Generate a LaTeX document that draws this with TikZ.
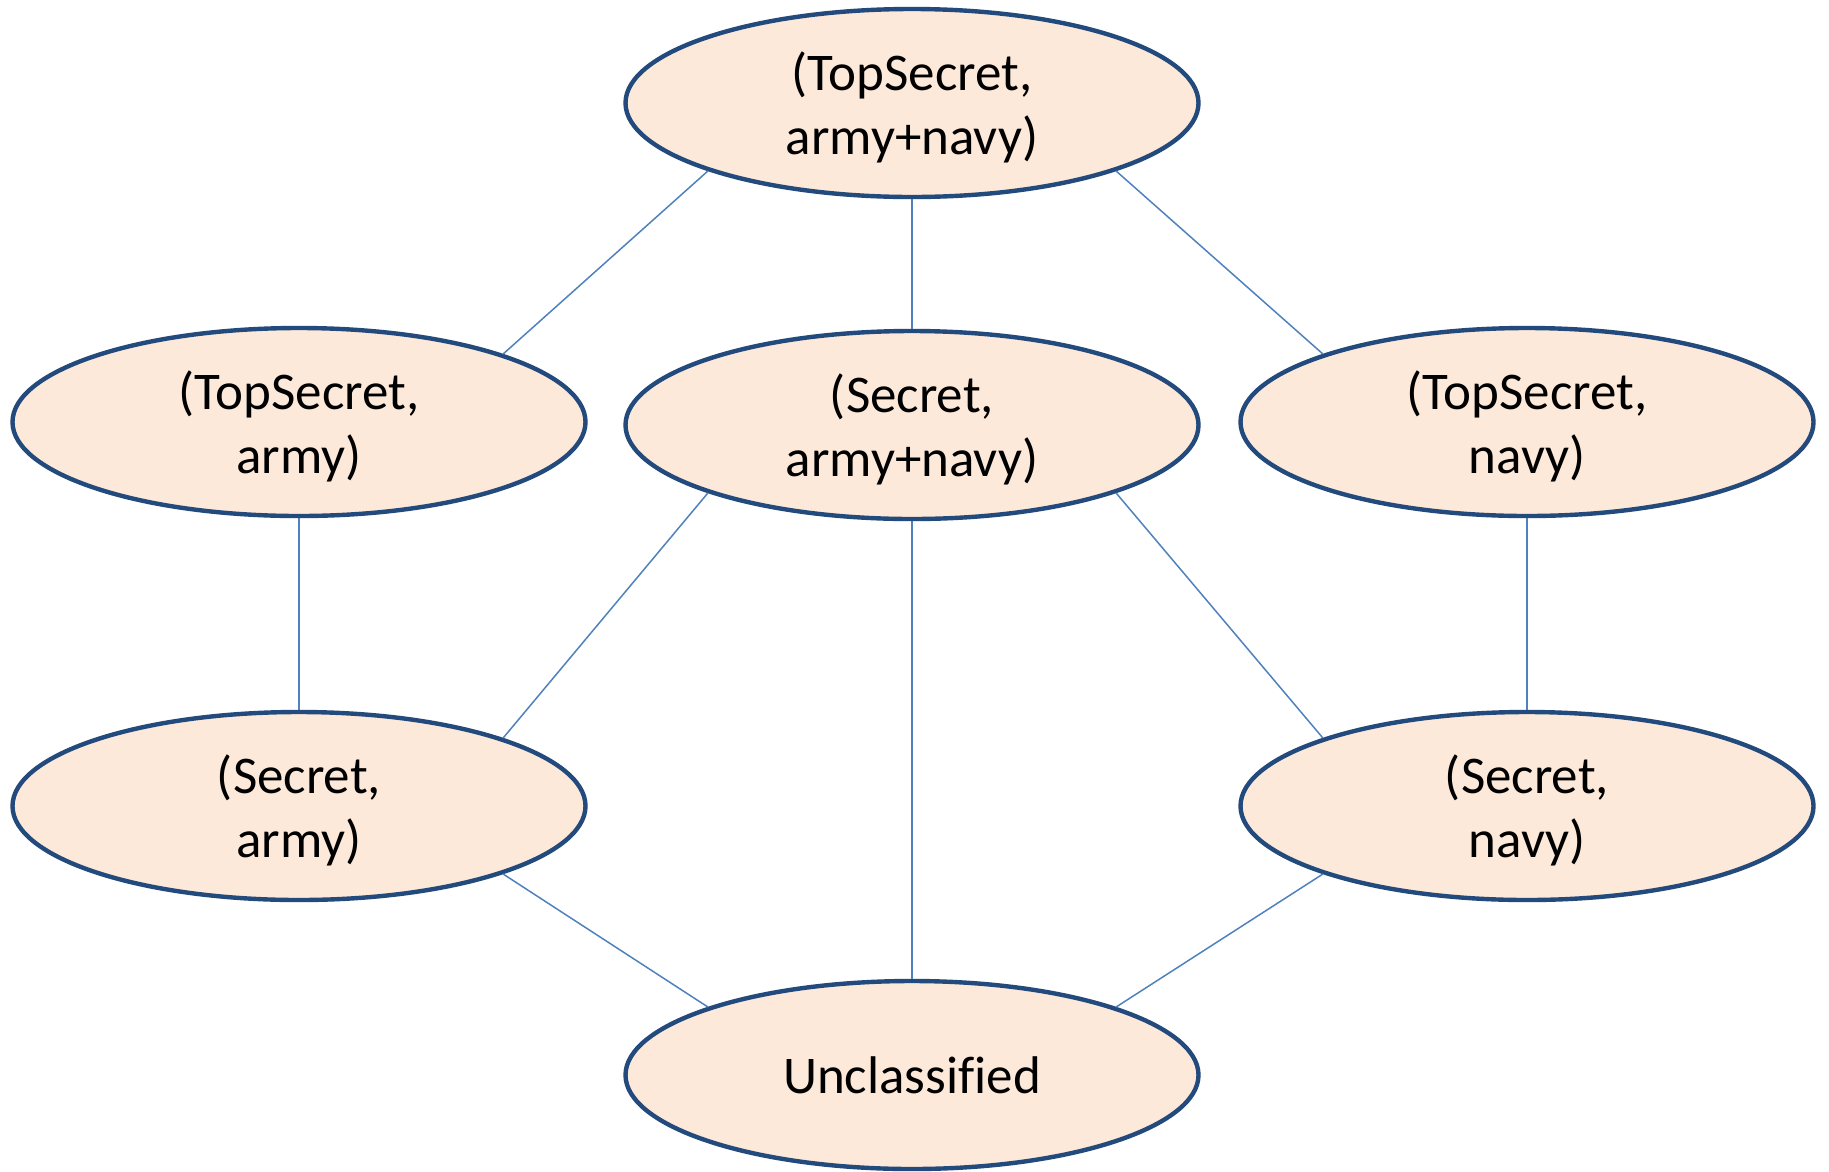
\documentclass[tikz,border=0pt]{standalone}
\usepackage{fontspec}
\setmainfont[Ligatures=NoCommon]{Carlito}
\usetikzlibrary{shapes.geometric}
\definecolor{lvlfill}{HTML}{FDE9DA}
\definecolor{lvlborder}{HTML}{234A7D}
\definecolor{linkblue}{HTML}{4F81BD}
% extra room above the first of two lines, to sit the pair a little lower
\newcommand{\toplift}{\raisebox{8pt}{\vphantom{(}}}
\begin{document}
\begin{tikzpicture}[x=1pt,y=-1pt,
  level/.style={ellipse, draw=lvlborder, fill=lvlfill, line width=4.4pt,
    minimum width=573pt, minimum height=188pt, inner sep=0pt,
    align=center, font=\fontsize{53}{64}\selectfont},
  link/.style={draw=linkblue, line width=1.5pt}]
  \useasboundingbox (0,0) rectangle (1829,1171);
  % security lattice levels
  \node[level] (tsan) at (912,103)  {\toplift(TopSecret,\\army+navy)};
  \node[level] (tsa)  at (299,422)  {\toplift(TopSecret,\\army)};
  \node[level] (san)  at (912,425)  {\toplift(Secret,\\army+navy)};
  \node[level] (tsn)  at (1527,422) {\toplift(TopSecret,\\navy)};
  \node[level] (sa)   at (299,806)  {\toplift(Secret,\\army)};
  \node[level] (sn)   at (1527,806) {\toplift(Secret,\\navy)};
  \node[level] (u)    at (912,1075) {Unclassified};
  % dominance relations
  \draw[link] (tsan.south west) -- (tsa.north east);
  \draw[link] (tsan.south) -- (san.north);
  \draw[link] (tsan.south east) -- (tsn.north west);
  \draw[link] (tsa.south) -- (sa.north);
  \draw[link] (san.south west) -- (sa.north east);
  \draw[link] (san.south) -- (u.north);
  \draw[link] (san.south east) -- (sn.north west);
  \draw[link] (tsn.south) -- (sn.north);
  \draw[link] (sa.south east) -- (u.north west);
  \draw[link] (sn.south west) -- (u.north east);
\end{tikzpicture}
\end{document}
